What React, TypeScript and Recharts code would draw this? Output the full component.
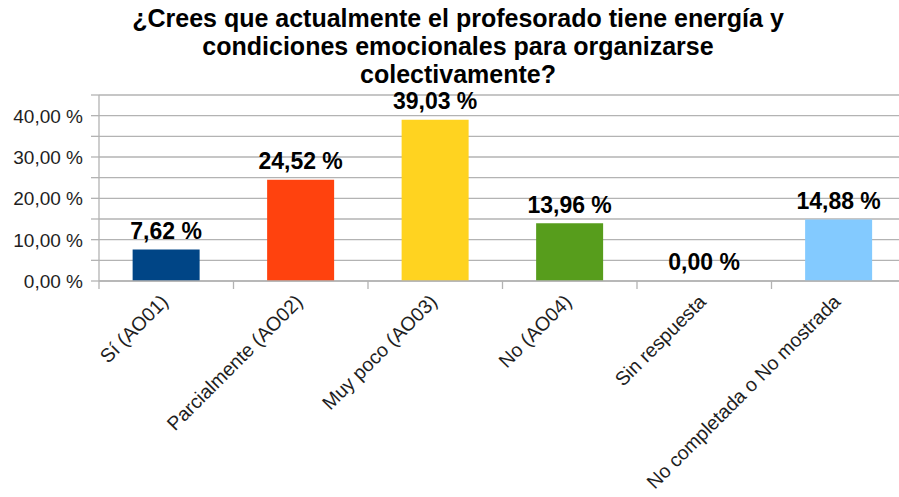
import React from 'react';
import { BarChart, Bar, XAxis, YAxis, CartesianGrid, Cell, LabelList } from 'recharts';

const titleLines = [
  '¿Crees que actualmente el profesorado tiene energía y',
  'condiciones emocionales para organizarse',
  'colectivamente?',
];
const categories = [
  'Sí (AO01)',
  'Parcialmente (AO02)',
  'Muy poco (AO03)',
  'No (AO04)',
  'Sin respuesta',
  'No completada o No mostrada',
];
const values = [7.62, 24.52, 39.03, 13.96, 0.0, 14.88];
const colors = ['#004586', '#ff420e', '#ffd320', '#579d1c', '#7e0021', '#83caff'];
const yTicks = [0, 5, 10, 15, 20, 25, 30, 35, 40, 45];

const data = categories.map((name, i) => ({ name, value: values[i], color: colors[i] }));

const CHART_W = 910;
const CHART_H = 497;
const MARGIN = { top: 95, right: 4, bottom: 0, left: 0 };
const Y_AXIS_W = 99;
const X_AXIS_H = 216;
const PLOT_LEFT = MARGIN.left + Y_AXIS_W;
const PLOT_RIGHT = CHART_W - MARGIN.right;
const AXIS_Y = CHART_H - MARGIN.bottom - X_AXIS_H;
const STEP = (PLOT_RIGHT - PLOT_LEFT) / categories.length;
const GRID = '#b3b3b3';
const TEXT = '#1e1e1e';
const FONT = '"Liberation Sans", Arial, sans-serif';

const fmt = (v: number) => v.toFixed(2).replace('.', ',') + ' %';

const XTick = (props: any) => {
  const { x, payload, index } = props;
  const tx = x + 3;
  const ty = AXIS_Y + 22;
  const left = x - STEP / 2;
  return (
    <g>
      <line x1={left} y1={AXIS_Y} x2={left} y2={AXIS_Y + 8} stroke={GRID} strokeWidth={1.3} />
      {index === categories.length - 1 && (
        <line x1={x + STEP / 2} y1={AXIS_Y} x2={x + STEP / 2} y2={AXIS_Y + 8} stroke={GRID} strokeWidth={1.3} />
      )}
      <text
        x={tx}
        y={ty}
        textAnchor="end"
        transform={`rotate(-45, ${tx}, ${ty})`}
        fontFamily={FONT}
        fontSize={19.5}
        fill={TEXT}
      >
        {payload.value}
      </text>
    </g>
  );
};

const YTick = (props: any) => {
  const { y, payload } = props;
  if (payload.value % 10 !== 0) return <g />;
  return (
    <text x={83} y={y} dy="0.36em" textAnchor="end" fontFamily={FONT} fontSize={19} fill={TEXT}>
      {fmt(payload.value)}
    </text>
  );
};

const BarLabel = (props: any) => {
  const { x, y, width, height, value } = props;
  const top = Math.min(y, y + height);
  return (
    <text
      x={x + width / 2}
      y={top - 10.5}
      textAnchor="middle"
      fontFamily={FONT}
      fontWeight="bold"
      fontSize={23}
      fill="#000"
    >
      {fmt(Number(value))}
    </text>
  );
};

export default function App() {
  return (
    <div
      style={{
        position: 'absolute',
        left: 0,
        top: 0,
        width: 899,
        height: 497,
        overflow: 'hidden',
        background: '#fff',
      }}
    >
      <svg width={899} height={100} style={{ position: 'absolute', left: 0, top: 0 }}>
        {titleLines.map((t, i) => (
          <text
            key={i}
            x={458}
            y={27.3 + i * 27.6}
            textAnchor="middle"
            fontFamily={FONT}
            fontWeight="bold"
            fontSize={25}
            fill="#000"
          >
            {t}
          </text>
        ))}
      </svg>
      <div style={{ position: 'absolute', left: 0, top: 0 }}>
        <BarChart width={CHART_W} height={CHART_H} data={data} margin={MARGIN} barCategoryGap="25%">
          <CartesianGrid vertical={false} stroke={GRID} strokeWidth={1.3} />
          <XAxis
            dataKey="name"
            height={X_AXIS_H}
            interval={0}
            tickLine={false}
            axisLine={{ stroke: GRID, strokeWidth: 1.3 }}
            tick={XTick}
          />
          <YAxis
            width={Y_AXIS_W}
            domain={[0, 45]}
            ticks={yTicks}
            interval={0}
            tickSize={8}
            tickLine={{ stroke: GRID, strokeWidth: 1.3 }}
            axisLine={{ stroke: GRID, strokeWidth: 1.3 }}
            tick={YTick}
            allowDataOverflow
          />
          <Bar dataKey="value" isAnimationActive={false} minPointSize={0.01}>
            {data.map((d, i) => (
              <Cell key={i} fill={d.color} />
            ))}
            <LabelList dataKey="value" content={BarLabel} />
          </Bar>
        </BarChart>
      </div>
    </div>
  );
}
